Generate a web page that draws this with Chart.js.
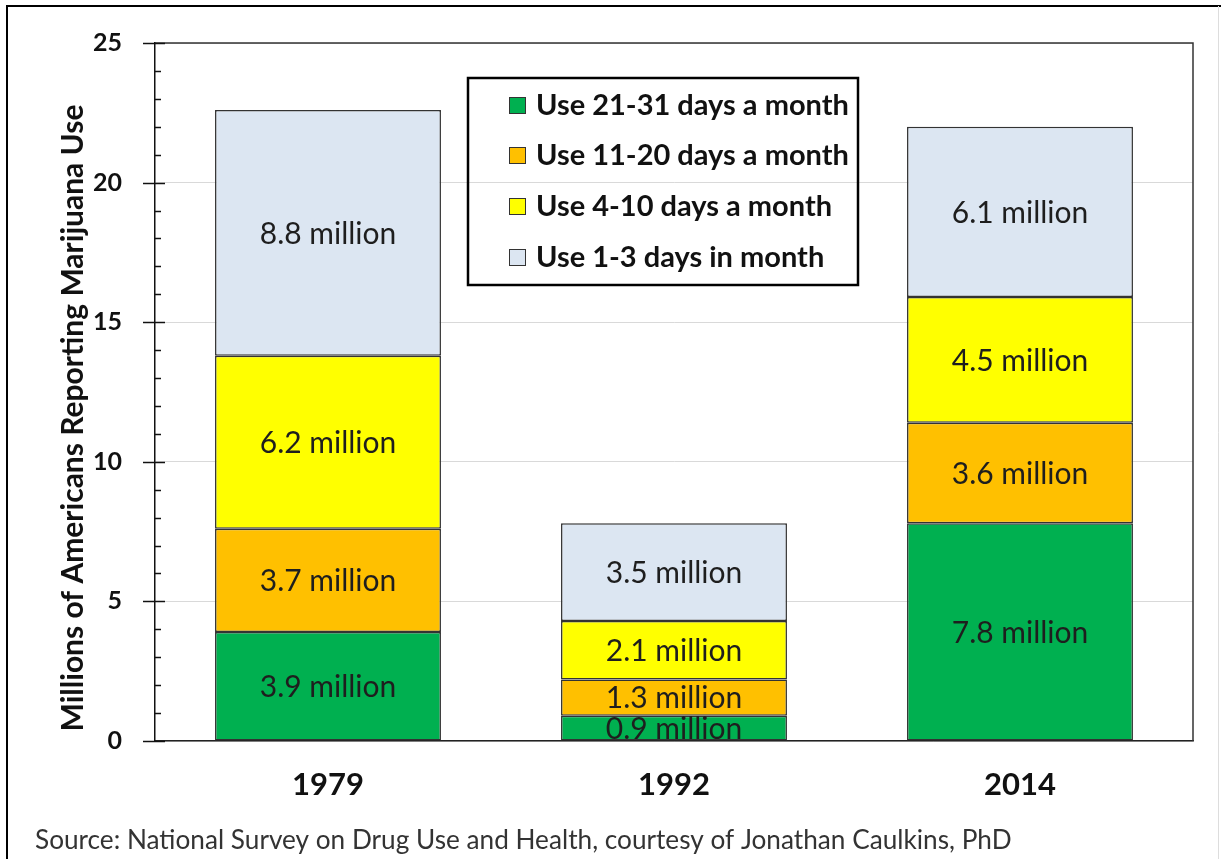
<!DOCTYPE html>
<html>
<head>
<meta charset="utf-8">
<script src="https://cdn.jsdelivr.net/npm/chart.js@4"></script>
<style>
  html, body { margin: 0; padding: 0; background: #fff; }
  #wrap { position: relative; width: 1221px; height: 859px; }
</style>
</head>
<body>
<div id="wrap"><canvas id="c" width="1221" height="859"></canvas></div>
<script>
/* ====== DATA ====== */
const years = ["1979", "1992", "2014"];
const use21to31 = [3.9, 0.9, 7.8];
const use11to20 = [3.7, 1.3, 3.6];
const use4to10  = [6.2, 2.1, 4.5];
const use1to3   = [8.8, 3.5, 6.1];
const seriesNames = [
  "Use 21-31 days a month",
  "Use 11-20 days a month",
  "Use 4-10 days a month",
  "Use 1-3 days in month"
];
const seriesColors = ["#00B050", "#FFC000", "#FFFF00", "#DCE6F2"];
const yTicks = [0, 5, 10, 15, 20, 25];

const yTitle = "Millions of Americans Reporting Marijuana Use";
const sourceNote = "Source: National Survey on Drug Use and Health, courtesy of Jonathan Caulkins, PhD";

const FONT = "Lato, 'Open Sans', sans-serif";

/* ====== PLUGINS ====== */
// segment labels ("8.8 million")
const segmentLabels = {
  id: "segmentLabels",
  afterDatasetsDraw(chart) {
    const ctx = chart.ctx;
    ctx.save();
    ctx.font = "30px " + FONT;
    ctx.fillStyle = "#1e1e1e";
    ctx.textAlign = "center";
    ctx.textBaseline = "middle";
    chart.data.datasets.forEach((ds, i) => {
      chart.getDatasetMeta(i).data.forEach((bar, j) => {
        const y = (bar.y + bar.base) / 2;
        ctx.fillText(ds.data[j].toFixed(1) + " million", bar.x, y + 1);
      });
    });
    ctx.restore();
  }
};

// axis ticks, plot frame, legend box, titles
const decorations = {
  id: "decorations",
  afterDraw(chart) {
    const ctx = chart.ctx;
    const ys = chart.scales.y;
    const a = chart.chartArea;
    ctx.save();

    // frame top + right
    ctx.strokeStyle = "#333";
    ctx.lineWidth = 1.5;
    ctx.beginPath();
    ctx.moveTo(a.left, a.top);
    ctx.lineTo(a.right, a.top);
    ctx.lineTo(a.right, a.bottom);
    ctx.stroke();

    // tick marks
    ctx.strokeStyle = "#111";
    ctx.lineWidth = 1.5;
    for (let v = 0; v <= 25; v++) {
      const y = Math.round(ys.getPixelForValue(v)) + 0.5;
      ctx.beginPath();
      if (v % 5 === 0) {
        ctx.moveTo(a.left - 12, y);
        ctx.lineTo(a.left + 10, y);
      } else {
        ctx.moveTo(a.left, y);
        ctx.lineTo(a.left + 6, y);
      }
      ctx.stroke();
    }

    // legend
    ctx.strokeStyle = "#000";
    ctx.lineWidth = 2.5;
    ctx.strokeRect(468, 78, 390, 207);
    ctx.font = "bold 29px " + FONT;
    ctx.textAlign = "left";
    ctx.textBaseline = "middle";
    const rowY = [105, 155, 206, 257];
    seriesNames.forEach((name, i) => {
      ctx.fillStyle = seriesColors[i];
      ctx.fillRect(509, rowY[i] - 8, 16, 16);
      ctx.strokeStyle = "#333";
      ctx.lineWidth = 1;
      ctx.strokeRect(509.5, rowY[i] - 7.5, 16, 16);
      ctx.fillStyle = "#111";
      ctx.fillText(name, 536, rowY[i] + 1);
    });

    // y axis title
    ctx.save();
    ctx.translate(73, 418);
    ctx.rotate(-Math.PI / 2);
    ctx.font = "bold 30px " + FONT;
    ctx.fillStyle = "#111";
    ctx.textAlign = "center";
    ctx.textBaseline = "middle";
    ctx.fillText(yTitle, 0, 0);
    ctx.restore();

    // source note
    ctx.font = "26.2px " + FONT;
    ctx.fillStyle = "#333";
    ctx.textAlign = "left";
    ctx.textBaseline = "alphabetic";
    ctx.fillText(sourceNote, 35, 849);

    // outer border
    ctx.strokeStyle = "#000";
    ctx.lineWidth = 2;
    ctx.beginPath();
    ctx.moveTo(7, 859);
    ctx.lineTo(7, 6);
    ctx.lineTo(1221, 6);
    ctx.stroke();
    ctx.strokeStyle = "#ddd";
    ctx.lineWidth = 1;
    ctx.beginPath();
    ctx.moveTo(1218.5, 6);
    ctx.lineTo(1218.5, 859);
    ctx.stroke();

    ctx.restore();
  }
};

const whiteBg = {
  id: "whiteBg",
  beforeDraw(chart) {
    const ctx = chart.ctx;
    ctx.save();
    ctx.fillStyle = "#fff";
    ctx.fillRect(0, 0, chart.width, chart.height);
    ctx.restore();
  }
};

/* ====== CHART ====== */
const seriesData = [use21to31, use11to20, use4to10, use1to3];

new Chart(document.getElementById("c").getContext("2d"), {
  type: "bar",
  data: {
    labels: years,
    datasets: seriesData.map((d, i) => ({
      label: seriesNames[i],
      data: d,
      backgroundColor: seriesColors[i],
      borderColor: "#333",
      borderWidth: 1.5,
      borderSkipped: false,
      categoryPercentage: 1,
      barPercentage: 0.653
    }))
  },
  options: {
    responsive: false,
    animation: false,
    layout: { padding: { left: 0, top: 43, right: 28, bottom: 0 } },
    plugins: {
      legend: { display: false },
      tooltip: { enabled: false }
    },
    scales: {
      x: {
        stacked: true,
        grid: { display: false, drawTicks: false },
        border: { display: true, color: "#222", width: 1.5 },
        ticks: {
          color: "#111",
          font: { family: FONT, size: 31, weight: "bold" },
          padding: 25
        },
        afterFit: s => { s.height = 118; }
      },
      y: {
        stacked: true,
        min: 0,
        max: 25,
        afterBuildTicks: s => { s.ticks = yTicks.map(v => ({ value: v })); },
        grid: {
          color: "#d9d9d9",
          lineWidth: 1,
          drawTicks: true,
          tickLength: 33,
          tickColor: "rgba(0,0,0,0)"
        },
        border: { display: true, color: "#111", width: 1.5 },
        ticks: {
          color: "#111",
          font: { family: FONT, size: 25, weight: "bold" },
          padding: 0
        },
        afterFit: s => { s.width = 155; }
      }
    }
  },
  plugins: [whiteBg, segmentLabels, decorations]
});
</script>
</body>
</html>
